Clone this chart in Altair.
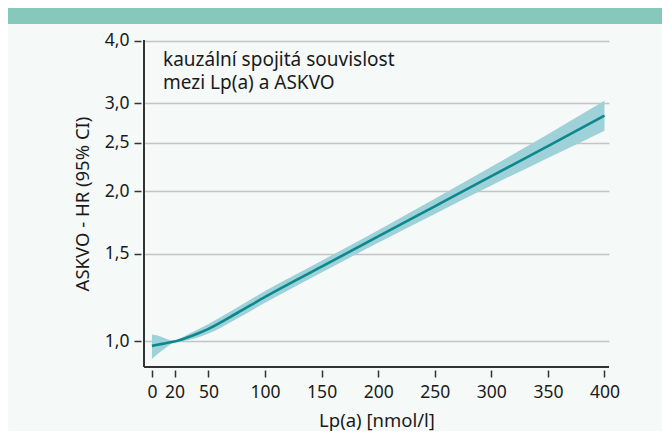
import altair as alt
import pandas as pd

# Data
lpa = [0, 5, 10, 15, 20, 30, 40, 50, 75, 100, 150, 200, 250, 300, 350, 400]
hr = [0.980, 0.985, 0.990, 0.995, 1.000, 1.016, 1.036, 1.060, 1.139, 1.228,
      1.412, 1.623, 1.865, 2.143, 2.462, 2.832]
ci_lo = [0.922, 0.944, 0.963, 0.982, 0.997, 1.004, 1.017, 1.037, 1.111, 1.195,
         1.374, 1.577, 1.801, 2.053, 2.330, 2.643]
ci_hi = [1.033, 1.028, 1.018, 1.008, 1.003, 1.028, 1.055, 1.084, 1.168, 1.262,
         1.451, 1.671, 1.931, 2.237, 2.601, 3.034]

x_ticks = [0, 20, 50, 100, 150, 200, 250, 300, 350, 400]
y_ticks = [1.0, 1.5, 2.0, 2.5, 3.0, 4.0]
annotation = ["kauzální spojitá souvislost", "mezi Lp(a) a ASKVO"]
x_title = "Lp(a) [nmol/l]"
y_title = "ASKVO - HR (95% CI)"

W, H = 465, 327
FONT = "Noto Sans"

df = pd.DataFrame({"lpa": lpa, "hr": hr, "lo": ci_lo, "hi": ci_hi})
one = pd.DataFrame({"a": [0]})

xscale = alt.Scale(domain=[-7, 404], nice=False, zero=False)
yscale = alt.Scale(type="log", domain=[0.889, 4.015], nice=False, zero=False)

xaxis = alt.Axis(values=x_ticks, title=x_title, domain=False, grid=False,
                 offset=3, tickSize=7, tickWidth=1.5, tickColor="#333333",
                 labelFont=FONT, labelFontSize=17.5, labelColor="#1a1a1a",
                 labelPadding=6, titleFont=FONT, titleFontSize=18.5,
                 titleFontWeight="normal", titleColor="#1a1a1a", titlePadding=11)
yaxis = alt.Axis(values=y_ticks, title=y_title, domain=False, grid=True,
                 gridColor="#c4c4c4", gridWidth=1.3,
                 labelExpr="replace(format(datum.value, '.1f'), '.', ',')",
                 offset=3, tickSize=7, tickWidth=1.5, tickColor="#333333",
                 labelFont=FONT, labelFontSize=17.5, labelColor="#1a1a1a",
                 labelPadding=5, titleFont=FONT, titleFontSize=18.5,
                 titleFontWeight="normal", titleColor="#1a1a1a", titlePadding=12)

band = alt.Chart(df).mark_area(color="#9fd1d8", opacity=1, interpolate="monotone").encode(
    x=alt.X("lpa:Q", scale=xscale, axis=xaxis),
    y=alt.Y("lo:Q", scale=yscale, axis=yaxis),
    y2="hi:Q",
)
line = alt.Chart(df).mark_line(color="#0b878e", strokeWidth=2.6, interpolate="monotone").encode(
    x=alt.X("lpa:Q", scale=xscale),
    y=alt.Y("hr:Q", scale=yscale),
)

left_rule = alt.Chart(one).mark_rule(color="#333333", strokeWidth=2).encode(
    x=alt.value(0), y=alt.value(0), y2=alt.value(H))
bottom_rule = alt.Chart(one).mark_rule(color="#333333", strokeWidth=2).encode(
    x=alt.value(0), x2=alt.value(W), y=alt.value(H))
header = alt.Chart(one).mark_rect(color="#86c9bc").encode(
    x=alt.value(-136), x2=alt.value(W + 53), y=alt.value(-32), y2=alt.value(-16))

text1 = alt.Chart(pd.DataFrame({"t": [annotation[0]]})).mark_text(
    align="left", baseline="middle", font=FONT, fontSize=19, color="#1a1a1a"
).encode(x=alt.value(19), y=alt.value(20), text="t")
text2 = alt.Chart(pd.DataFrame({"t": [annotation[1]]})).mark_text(
    align="left", baseline="middle", font=FONT, fontSize=19, color="#1a1a1a"
).encode(x=alt.value(19), y=alt.value(43), text="t")

chart = alt.layer(header, band, line, left_rule, bottom_rule, text1, text2).properties(
    width=W, height=H,
    padding={"left": 136, "top": 32, "right": 53, "bottom": 64},
    autosize=alt.AutoSizeParams(type="none"),
    background="#f5f9f8",
).configure_view(stroke=None)

chart.save("out.html", embed_options={"renderer": "svg", "actions": False})
